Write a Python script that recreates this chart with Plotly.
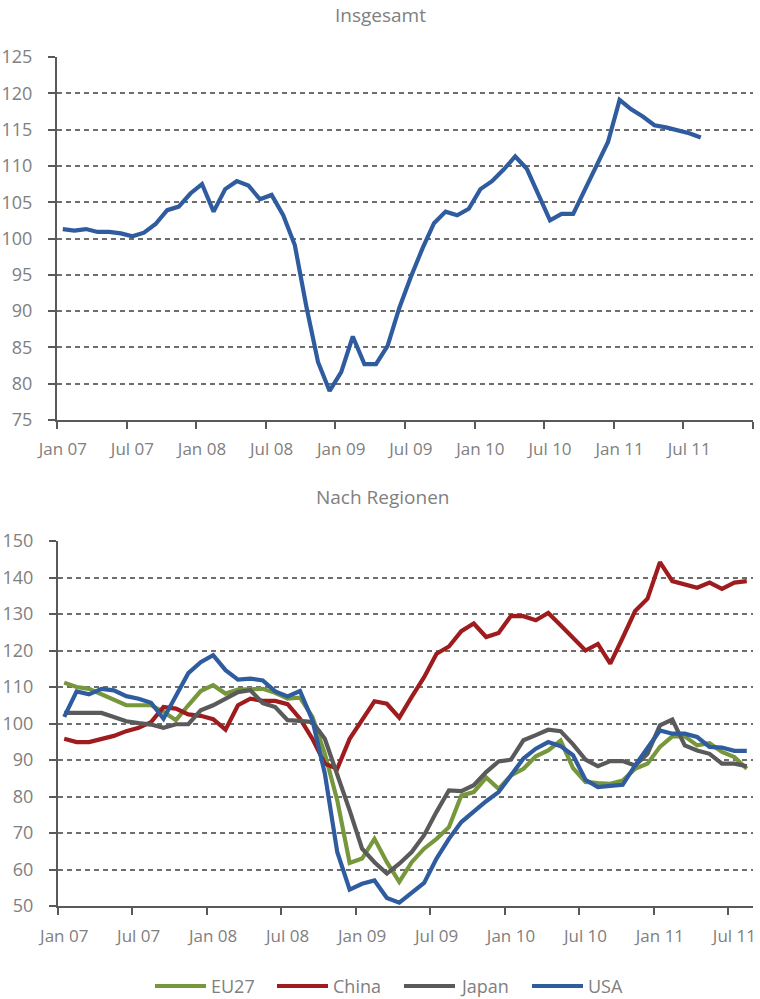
import plotly.graph_objects as go

# ---- data ----
tick_labels = ["Jan 07", "Jul 07", "Jan 08", "Jul 08", "Jan 09", "Jul 09",
               "Jan 10", "Jul 10", "Jan 11", "Jul 11"]

insgesamt = [101.3, 101.1, 101.3, 100.9, 100.9, 100.7, 100.3, 100.8, 102.0, 103.9,
             104.4, 106.2, 107.5, 103.7, 106.8, 107.9, 107.3, 105.4, 106.0, 103.2,
             99.1, 90.6, 83.0, 79.0, 81.6, 86.5, 82.7, 82.7, 85.2, 90.4,
             94.7, 98.6, 102.1, 103.7, 103.2, 104.1, 106.8, 107.9, 109.5, 111.3,
             109.6, 106.2, 102.5, 103.4, 103.4, 106.7, 109.9, 113.3, 119.1, 117.8,
             116.8, 115.6, 115.3, 114.9, 114.5, 113.9]

eu27 = [111.2, 110.0, 109.5, 108.0, 106.6, 105.0, 105.0, 105.0, 103.2, 100.9,
        105.0, 108.9, 110.5, 108.2, 109.3, 109.5, 109.5, 108.4, 106.8, 107.1,
        101.8, 91.7, 79.0, 61.8, 63.0, 68.4, 62.0, 56.6, 62.0, 65.7,
        68.4, 71.6, 80.3, 81.2, 85.2, 82.1, 85.8, 87.6, 91.0, 92.6,
        95.3, 87.8, 84.0, 83.7, 83.5, 84.4, 87.6, 89.0, 93.6, 96.5,
        96.5, 94.0, 94.6, 92.2, 90.8, 87.6]

china = [95.8, 94.9, 94.9, 95.8, 96.6, 97.9, 98.8, 100.4, 104.5, 104.1,
         102.5, 102.1, 101.2, 98.3, 105.0, 106.8, 106.2, 106.2, 105.3, 101.3,
         95.8, 89.0, 87.6, 95.8, 100.9, 106.1, 105.4, 101.6, 107.3, 112.7,
         119.1, 121.1, 125.3, 127.4, 123.7, 124.8, 129.5, 129.4, 128.3, 130.3,
         126.9, 123.4, 120.0, 121.8, 116.4, 123.5, 130.8, 134.2, 144.2, 139.0,
         138.1, 137.2, 138.6, 136.9, 138.6, 139.0]

japan = [102.9, 102.9, 102.9, 102.9, 101.8, 100.6, 100.1, 99.7, 98.8, 99.8,
         99.8, 103.6, 105.0, 106.8, 108.6, 109.1, 105.6, 104.5, 100.9, 100.7,
         100.4, 95.8, 86.3, 76.2, 65.7, 62.0, 58.9, 61.6, 64.8, 69.4,
         75.8, 81.7, 81.5, 83.1, 86.7, 89.6, 90.1, 95.4, 96.8, 98.3,
         97.9, 94.3, 90.1, 88.3, 89.7, 89.7, 88.5, 91.7, 99.5, 101.1,
         94.0, 92.6, 91.7, 89.0, 89.0, 88.3]

usa = [101.8, 108.8, 108.0, 109.5, 109.1, 107.5, 106.8, 105.7, 101.3, 107.3,
       113.8, 116.8, 118.7, 114.6, 112.0, 112.3, 111.8, 108.8, 107.4, 108.9,
       100.9, 86.3, 64.8, 54.5, 56.1, 57.0, 52.2, 50.9, 53.6, 56.3,
       63.0, 68.4, 73.0, 76.0, 78.7, 81.2, 85.8, 90.4, 93.1, 94.9,
       93.8, 91.3, 84.6, 82.6, 82.9, 83.2, 88.5, 93.1, 98.1, 97.2,
       97.2, 96.3, 93.6, 93.4, 92.5, 92.5]

series = [("EU27", eu27, "#77973D"), ("China", china, "#9E1B1E"),
          ("Japan", japan, "#5A5A5A"), ("USA", usa, "#2F5C9F")]

FONT = "Open Sans"
TXT = "#808080"
AX = "#595959"
GRID = "#6e6e6e"

fig = go.Figure()

x_top = list(range(len(insgesamt)))
fig.add_trace(go.Scatter(x=x_top, y=insgesamt, mode="lines", showlegend=False,
                         line=dict(color="#2F5C9F", width=4.2), xaxis="x", yaxis="y"))
for name, vals, col in series:
    fig.add_trace(go.Scatter(x=list(range(len(vals))), y=vals, mode="lines", name=name,
                             showlegend=False,
                             line=dict(color=col, width=4.2), xaxis="x2", yaxis="y2"))

label_pos = [6 * k for k in range(len(tick_labels))]


def xaxis(domain, rng, anchor, nbound, standoff):
    return dict(domain=domain, range=rng, anchor=anchor, automargin=False,
                tickvals=label_pos, ticktext=tick_labels, ticks="", ticklen=0,
                ticklabelstandoff=standoff,
                showgrid=False, zeroline=False,
                showline=True, linecolor=AX, linewidth=2.2,
                tickfont=dict(family=FONT, size=17, color=TXT),
                minor=dict(tickvals=[-0.5 + 6 * k for k in range(nbound)],
                           ticks="outside", ticklen=7, tickwidth=2, tickcolor=AX,
                           showgrid=False))


def yaxis(domain, rng, dt, anchor):
    return dict(domain=domain, range=rng, anchor=anchor, dtick=dt, tick0=0,
                automargin=False, ticklabelstandoff=12,
                ticks="outside", ticklen=7, tickwidth=2, tickcolor=AX,
                showline=True, linecolor=AX, linewidth=2.2,
                showgrid=True, gridcolor=GRID, gridwidth=1.5, griddash="5px,4px",
                zeroline=False,
                tickfont=dict(family=FONT, size=18, color=TXT))


H = 999
W = 760

# custom legend (long line swatches like the original)
legend_x = [155, 277, 404, 532]
legend_y = 1 - 986 / H
shapes = []
annotations = [
    dict(text="Insgesamt", x=381 / W, y=1 - 15 / H, xref="paper", yref="paper",
         showarrow=False, xanchor="center", yanchor="middle",
         font=dict(family=FONT, size=19, color=TXT)),
    dict(text="Nach Regionen", x=382 / W, y=1 - 497 / H, xref="paper", yref="paper",
         showarrow=False, xanchor="center", yanchor="middle",
         font=dict(family=FONT, size=19, color=TXT)),
]
for (name, _, col), lx in zip(series, legend_x):
    shapes.append(dict(type="line", xref="paper", yref="paper",
                       x0=lx / W, x1=(lx + 51) / W, y0=legend_y, y1=legend_y,
                       line=dict(color=col, width=4)))
    annotations.append(dict(text=name, x=(lx + 54) / W, y=legend_y, xref="paper", yref="paper",
                            showarrow=False, xanchor="left", yanchor="middle",
                            font=dict(family=FONT, size=18, color=TXT)))

fig.update_layout(
    width=W, height=H, margin=dict(l=0, r=0, t=0, b=0, autoexpand=False),
    paper_bgcolor="white", plot_bgcolor="white", showlegend=False,
    xaxis=xaxis([57 / W, 753 / W], [-0.5, 59.5], "y", 11, 12),
    yaxis=yaxis([1 - 420 / H, 1 - 57 / H], [75, 125], 5, "x"),
    xaxis2=xaxis([58 / W, 753 / W], [-0.5, 55.5], "y2", 10, 13),
    yaxis2=yaxis([1 - 906 / H, 1 - 541 / H], [50, 150], 10, "x2"),
    shapes=shapes,
    annotations=annotations,
)

fig.write_html("out.html", config={"displayModeBar": False},
               post_script="document.body.style.margin='0';")
